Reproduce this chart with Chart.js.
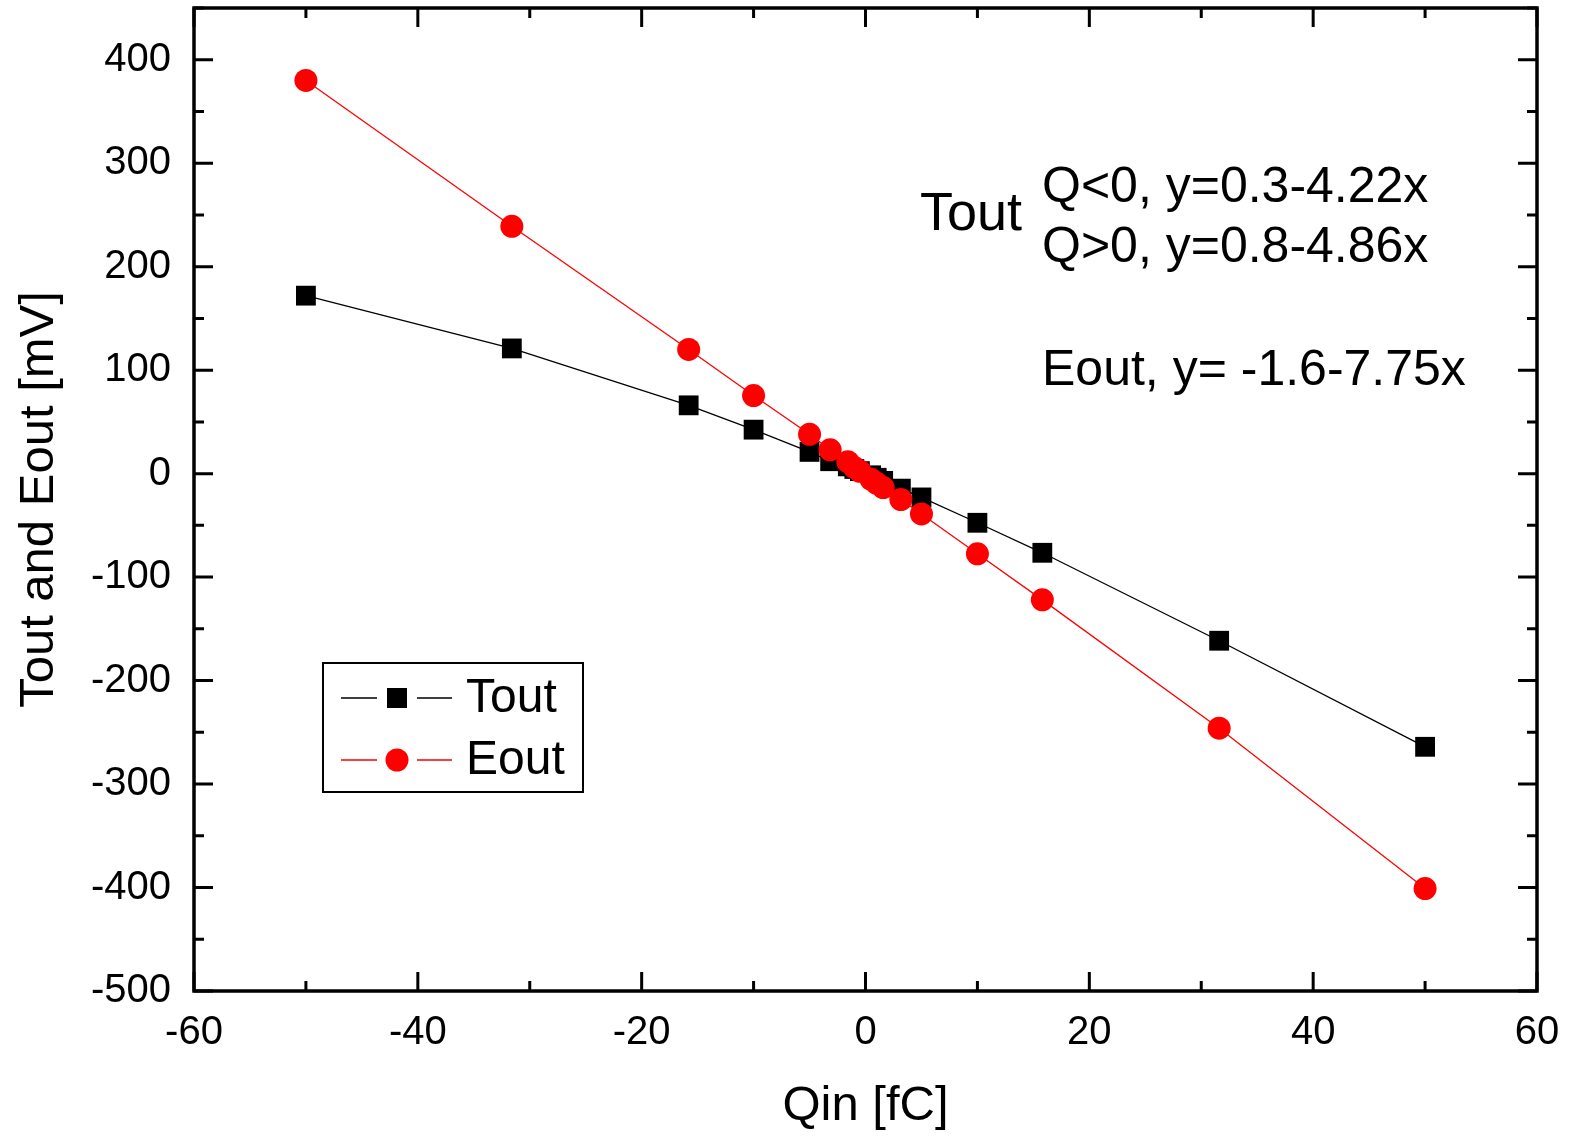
<!DOCTYPE html>
<html>
<head>
<meta charset="utf-8">
<script src="https://cdn.jsdelivr.net/npm/chart.js@4.4.0/dist/chart.umd.min.js"></script>
<style>
  html, body { margin: 0; padding: 0; background: #fff; }
  #wrap { width: 1569px; height: 1136px; }
</style>
</head>
<body>
<div id="wrap"><canvas id="chart" width="1569" height="1136"></canvas></div>
<script>
// Qin values [fC]
const qin = [-50, -31.6, -15.8, -10, -5, -3.16, -1.58, -1, -0.5, 0.5, 1, 1.58, 3.16, 5, 10, 15.8, 31.6, 50];
// Tout [mV]
const tout = [172, 121, 66, 42.5, 21, 12, 7, 4.5, 2.4, -1.6, -4, -7, -14.5, -23, -47.5, -76.5, -161.5, -264];
// Eout [mV]
const eout = [380, 239, 120, 75.5, 38, 23, 11.5, 6, 2.3, -5.5, -9.4, -13.5, -25, -39, -77.5, -122, -246, -401];

const xTicks = [-60, -40, -20, 0, 20, 40, 60];
const yTicks = [-500, -400, -300, -200, -100, 0, 100, 200, 300, 400];

const FONT = "'Liberation Sans', Arial, sans-serif";

// zip x/y into points
function pts(xs, ys) {
  return xs.map((x, i) => ({ x: x, y: ys[i] }));
}

// no extra padding from tick labels
function noPad(s) {
  s.paddingTop = 0; s.paddingBottom = 0;
  s.paddingLeft = 0; s.paddingRight = 0;
}

// frame, inside ticks, fit text, legend
const decor = {
  id: 'decor',
  afterDraw(chart) {
    const c = chart.ctx;
    const a = chart.chartArea;
    const xs = chart.scales.x, ys = chart.scales.y;
    c.save();
    c.strokeStyle = '#000';
    c.lineWidth = 3;
    c.lineCap = 'butt';

    // ticks, major and minor, on all four sides
    c.beginPath();
    for (let v = -60; v <= 60; v += 10) {
      const px = xs.getPixelForValue(v);
      const len = v % 20 === 0 ? 19 : 10;
      c.moveTo(px, a.bottom); c.lineTo(px, a.bottom - len);
      c.moveTo(px, a.top); c.lineTo(px, a.top + len);
    }
    for (let v = -500; v <= 450; v += 50) {
      const py = ys.getPixelForValue(v);
      const len = v % 100 === 0 ? 19 : 10;
      c.moveTo(a.left, py); c.lineTo(a.left + len, py);
      c.moveTo(a.right, py); c.lineTo(a.right - len, py);
    }
    c.stroke();

    // frame
    c.lineWidth = 3.5;
    c.strokeRect(a.left, a.top, a.right - a.left, a.bottom - a.top);

    // fit annotations
    c.fillStyle = '#000';
    c.textBaseline = 'alphabetic';
    c.textAlign = 'left';
    c.font = '54px ' + FONT;
    c.fillText('Tout', 920, 230);
    c.font = '50px ' + FONT;
    c.fillText('Q<0, y=0.3-4.22x', 1042, 202);
    c.fillText('Q>0, y=0.8-4.86x', 1042, 262);
    c.fillText('Eout, y= -1.6-7.75x', 1042, 385);

    // legend box
    c.lineWidth = 2;
    c.strokeRect(323, 663, 260, 129);
    const rows = [
      { label: 'Tout', color: '#000', y: 698, shape: 'rect' },
      { label: 'Eout', color: '#ff0000', y: 760, shape: 'circle' }
    ];
    rows.forEach(r => {
      c.strokeStyle = r.color;
      c.lineWidth = 1.5;
      c.beginPath();
      c.moveTo(341, r.y); c.lineTo(377, r.y);
      c.moveTo(417, r.y); c.lineTo(452, r.y);
      c.stroke();
      c.fillStyle = r.color;
      if (r.shape === 'rect') {
        c.fillRect(387, r.y - 10, 20, 20);
      } else {
        c.beginPath(); c.arc(397, r.y, 11.5, 0, Math.PI * 2); c.fill();
      }
      c.fillStyle = '#000';
      c.font = '48px ' + FONT;
      c.textBaseline = 'middle';
      c.fillText(r.label, 466, r.y + 1);
    });
    c.restore();
  }
};

new Chart(document.getElementById('chart'), {
  type: 'scatter',
  data: {
    datasets: [
      {
        label: 'Tout',
        data: pts(qin, tout),
        showLine: true,
        borderColor: '#000',
        borderWidth: 1.3,
        backgroundColor: '#000',
        pointStyle: 'rect',
        pointRadius: 14,
        pointBorderWidth: 0,
        order: 2
      },
      {
        label: 'Eout',
        data: pts(qin, eout),
        showLine: true,
        borderColor: '#ff0000',
        borderWidth: 1.3,
        backgroundColor: '#ff0000',
        pointStyle: 'circle',
        pointRadius: 11.5,
        pointBorderWidth: 0,
        order: 1
      }
    ]
  },
  options: {
    responsive: false,
    animation: false,
    layout: { autoPadding: false, padding: { top: 8, right: 32, left: 0, bottom: 0 } },
    plugins: {
      legend: { display: false },
      tooltip: { enabled: false }
    },
    scales: {
      x: {
        type: 'linear',
        min: -60, max: 60,
        grid: { display: false },
        border: { display: false },
        afterBuildTicks: s => { s.ticks = xTicks.map(v => ({ value: v })); },
        afterFit: s => { s.height = 145; noPad(s); },
        ticks: {
          color: '#000', font: { family: FONT, size: 40 },
          padding: 10, maxRotation: 0, autoSkip: false
        },
        title: {
          display: true, text: 'Qin [fC]', color: '#000',
          font: { family: FONT, size: 49 }, padding: { top: 0, bottom: 0 }
        }
      },
      y: {
        type: 'linear',
        min: -500, max: 450,
        grid: { display: false },
        border: { display: false },
        afterBuildTicks: s => { s.ticks = yTicks.map(v => ({ value: v })); },
        afterFit: s => { s.width = 194; noPad(s); },
        ticks: {
          color: '#000', font: { family: FONT, size: 40 },
          padding: 15, autoSkip: false
        },
        title: {
          display: true, text: 'Tout and Eout [mV]', color: '#000',
          font: { family: FONT, size: 49 }, padding: { top: 10, bottom: 0 }
        }
      }
    }
  },
  plugins: [decor]
});
</script>
</body>
</html>
